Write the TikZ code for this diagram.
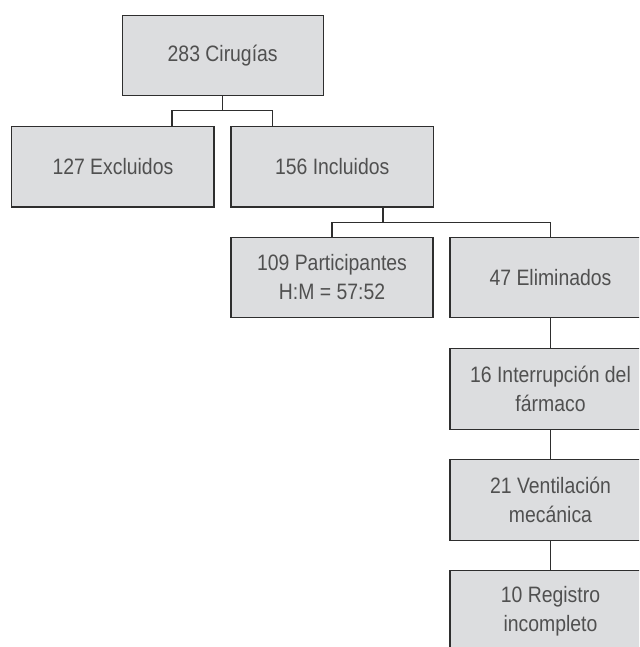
\documentclass[tikz,border=0pt]{standalone}
\usepackage{fontspec}
\setmainfont{Liberation Sans}[FakeStretch=0.87]
\definecolor{boxline}{HTML}{2E2E2E}
\definecolor{boxfill}{HTML}{DCDDDF}
\definecolor{txt}{HTML}{505050}
\begin{document}
\begin{tikzpicture}[x=1pt,y=-1pt,
  box/.style={draw=boxline, fill=boxfill, line width=1.3pt, inner sep=0pt, outer sep=0pt,
    text=txt, align=center, font=\fontsize{22.3}{29}\selectfont, minimum height=80.5pt},
  conn/.style={draw=boxline, line width=1.3pt}]
\clip (0,0) rectangle (639,647);
\fill[white] (0,0) rectangle (639,647);
% nodes
\node[box, minimum width=201pt] (top) at (222.7,55.5) {283 Cirugías};
\node[box, minimum width=202.3pt] (exc) at (112.9,166.7) {127 Excluidos};
\node[box, minimum width=202.3pt] (inc) at (332.2,166.7) {156 Incluidos};
\node[box, minimum width=202pt] (par) at (332,277.5) {109 Participantes\\H:M = 57:52};
\node[box, minimum width=201pt] (eli) at (550.5,277.5) {47 Eliminados};
\node[box, minimum width=201pt] (int) at (550.5,389) {16 Interrupción del\\fármaco};
\node[box, minimum width=201pt] (ven) at (550.5,500) {21 Ventilación\\mecánica};
\node[box, minimum width=201pt] (reg) at (550.5,611) {10 Registro\\incompleto};
% junctions
\coordinate (j1) at (222.7,110.8);
\coordinate (j2) at (383,222.5);
% connectors
\draw[conn] (top.south) -- (j1);
\draw[conn] (exc.north -| 172,0) |- (j1) -| (inc.north -| 272.7,0);
\draw[conn] (inc.south -| j2) -- (j2);
\draw[conn] (par.north) |- (j2) -| (eli.north);
\draw[conn] (eli) -- (int);
\draw[conn] (int) -- (ven);
\draw[conn] (ven) -- (reg);
\end{tikzpicture}
\end{document}
